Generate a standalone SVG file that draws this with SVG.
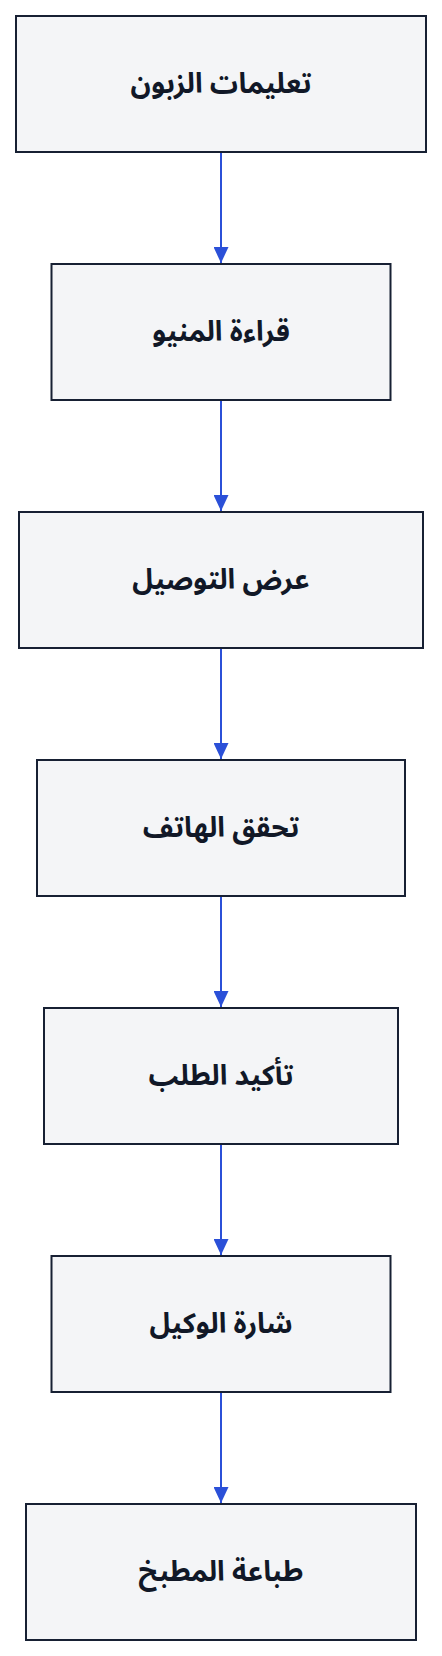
<svg xmlns="http://www.w3.org/2000/svg" width="442" height="1656" viewBox="0 0 442 1656">
<style>
.box{fill:#f4f5f7;stroke:#172033;stroke-width:2}
.lbl{font-family:"Noto Sans Arabic","Noto Sans",sans-serif;font-size:28px;font-weight:bold;fill:#111827;text-anchor:middle;dominant-baseline:central;direction:rtl}
.edge{stroke:#2b50d8;stroke-width:2;fill:none}
</style>
<defs>
<marker id="ah" viewBox="0 0 16 15" refX="16" refY="7.5" markerWidth="16" markerHeight="15" markerUnits="userSpaceOnUse" orient="auto">
<path d="M0,0 L16,7.5 L0,15 Z" fill="#2b50d8"/>
</marker>
</defs>
<rect width="442" height="1656" fill="#ffffff"/>
<g id="connectors">
<line class="edge" x1="221" y1="152" x2="221" y2="263" marker-end="url(#ah)"/>
<line class="edge" x1="221" y1="400" x2="221" y2="511" marker-end="url(#ah)"/>
<line class="edge" x1="221" y1="648" x2="221" y2="759" marker-end="url(#ah)"/>
<line class="edge" x1="221" y1="896" x2="221" y2="1007" marker-end="url(#ah)"/>
<line class="edge" x1="221" y1="1144" x2="221" y2="1255" marker-end="url(#ah)"/>
<line class="edge" x1="221" y1="1392" x2="221" y2="1503" marker-end="url(#ah)"/>
</g>
<g id="n1"><rect class="box" x="16" y="16" width="410" height="136"/><text class="lbl" x="221" y="84">تعليمات الزبون</text></g>
<g id="n2"><rect class="box" x="51.5" y="264" width="339" height="136"/><text class="lbl" x="221" y="332">قراءة المنيو</text></g>
<g id="n3"><rect class="box" x="19" y="512" width="404" height="136"/><text class="lbl" x="221" y="580">عرض التوصيل</text></g>
<g id="n4"><rect class="box" x="37" y="760" width="368" height="136"/><text class="lbl" x="221" y="828">تحقق الهاتف</text></g>
<g id="n5"><rect class="box" x="44" y="1008" width="354" height="136"/><text class="lbl" x="221" y="1076">تأكيد الطلب</text></g>
<g id="n6"><rect class="box" x="51.5" y="1256" width="339" height="136"/><text class="lbl" x="221" y="1324">شارة الوكيل</text></g>
<g id="n7"><rect class="box" x="26" y="1504" width="390" height="136"/><text class="lbl" x="221" y="1572">طباعة المطبخ</text></g>
</svg>
